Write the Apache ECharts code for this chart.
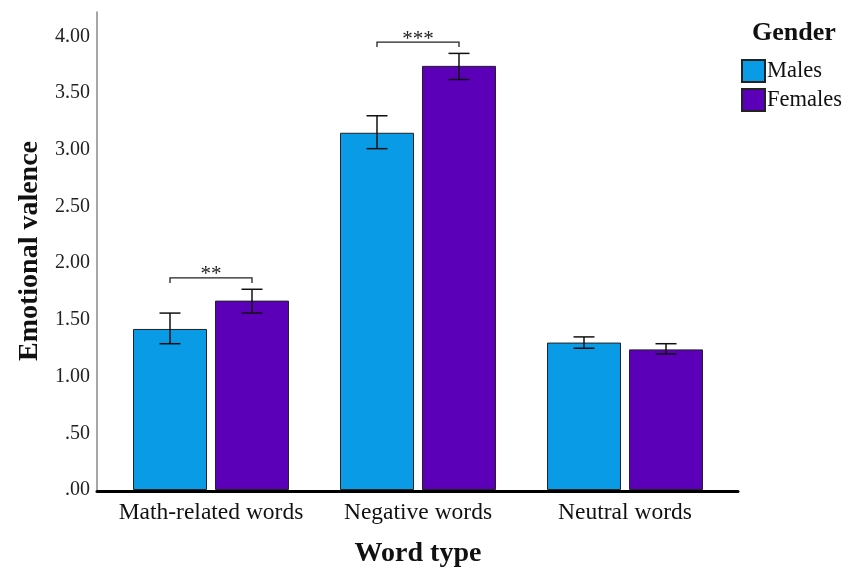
<!DOCTYPE html>
<html>
<head>
<meta charset="utf-8">
<script src="https://cdn.jsdelivr.net/npm/echarts@6/dist/echarts.min.js"></script>
<style>
  html, body { margin: 0; padding: 0; background: #ffffff; }
  #chart { width: 849px; height: 573px; }
</style>
</head>
<body>
<div id="chart"></div>
<script>
// Mean emotional valence per word type, split by gender, with error-bar bounds
const wordTypes = ['Math-related words', 'Negative words', 'Neutral words'];
const genders = ['Males', 'Females'];
const malesMean = [1.42, 3.15, 1.30];
const femalesMean = [1.67, 3.74, 1.24];
const malesLow = [1.29, 3.01, 1.25];
const malesHigh = [1.56, 3.30, 1.35];
const femalesLow = [1.56, 3.62, 1.20];
const femalesHigh = [1.77, 3.85, 1.29];
// Significance brackets between the two bars of a group
const bracketLevel = [1.87, 3.95, null];
const bracketStars = ['**', '***', ''];

const FONT = '"Liberation Serif", "Times New Roman", serif';
const BAR_W = 74;
const BAR_GAP = 8;
const HALF_STEP = (BAR_W + BAR_GAP) / 2;
const COLORS = ['#0A9BE6', '#5B00B8'];

const chart = echarts.init(document.getElementById('chart'), null, { renderer: 'canvas' });

function errorBarSeries(name, low, high, shift) {
  return {
    type: 'custom',
    name: name + ' error',
    xAxisIndex: 0,
    yAxisIndex: 0,
    z: 5,
    silent: true,
    data: low.map((l, i) => [i, l, high[i]]),
    renderItem: function (params, api) {
      const lo = api.coord([api.value(0), api.value(1)]);
      const hi = api.coord([api.value(0), api.value(2)]);
      const x = lo[0] + shift;
      const cap = 10.5;
      const style = { stroke: '#111', lineWidth: 1.5 };
      return {
        type: 'group',
        children: [
          { type: 'line', shape: { x1: x, y1: lo[1], x2: x, y2: hi[1] }, style: style },
          { type: 'line', shape: { x1: x - cap, y1: lo[1], x2: x + cap, y2: lo[1] }, style: style },
          { type: 'line', shape: { x1: x - cap, y1: hi[1], x2: x + cap, y2: hi[1] }, style: style }
        ]
      };
    }
  };
}

const bracketData = [];
bracketLevel.forEach((lvl, i) => {
  if (lvl != null) bracketData.push([i, lvl, bracketStars[i]]);
});

const option = {
  backgroundColor: '#ffffff',
  animation: false,
  title: {
    text: 'Gender',
    left: 752,
    top: 20,
    padding: 0,
    textStyle: { fontFamily: FONT, fontWeight: 'bold', fontSize: 26, color: '#111' }
  },
  legend: {
    data: genders,
    orient: 'vertical',
    left: 741,
    top: 59,
    padding: 0,
    itemWidth: 23,
    itemHeight: 22,
    itemGap: 5,
    selectedMode: false,
    icon: 'rect',
    textStyle: { fontFamily: FONT, fontSize: 22.5, color: '#111', padding: [0, 0, 0, -3] }
  },
  grid: [
    { left: 107.5, width: 621, top: 12, height: 479, containLabel: false },
    { left: 97, width: 641, top: 12, height: 479, containLabel: false }
  ],
  xAxis: [
    {
      type: 'category',
      gridIndex: 0,
      data: wordTypes,
      axisLine: { show: false },
      axisTick: { show: false },
      axisLabel: { interval: 0, fontFamily: FONT, fontSize: 23.5, color: '#111', margin: 11 },
      name: 'Word type',
      nameLocation: 'middle',
      nameGap: 50,
      nameTextStyle: { fontFamily: FONT, fontWeight: 'bold', fontSize: 28, color: '#111' }
    },
    {
      type: 'value',
      gridIndex: 1,
      min: 0,
      max: 1,
      axisLine: { show: true, lineStyle: { color: '#000', width: 3 } },
      axisTick: { show: false },
      axisLabel: { show: false },
      splitLine: { show: false }
    }
  ],
  yAxis: [
    {
      type: 'value',
      gridIndex: 0,
      min: 0,
      max: 4.215,
      interval: 0.5,
      offset: 10.5,
      axisLine: { show: true, lineStyle: { color: '#888', width: 1.5 } },
      axisTick: { show: false },
      splitLine: { show: false },
      axisLabel: {
        fontFamily: FONT,
        fontSize: 20,
        color: '#222',
        margin: 7,
        showMaxLabel: false,
        formatter: function (v) {
          if (Math.abs(v * 2 - Math.round(v * 2)) > 1e-6) return '';
          return v.toFixed(2).replace(/^0/, '');
        }
      },
      name: 'Emotional valence',
      nameLocation: 'middle',
      nameRotate: 90,
      nameGap: 50,
      nameTextStyle: { fontFamily: FONT, fontWeight: 'bold', fontSize: 28, color: '#111' }
    },
    {
      type: 'value',
      gridIndex: 1,
      show: false,
      min: 0,
      max: 1
    }
  ],
  series: [
    {
      name: 'Males',
      type: 'bar',
      xAxisIndex: 0,
      yAxisIndex: 0,
      barWidth: BAR_W,
      barGap: (BAR_GAP / BAR_W * 100).toFixed(2) + '%',
      data: malesMean,
      itemStyle: { color: COLORS[0], borderColor: '#222', borderWidth: 1 }
    },
    {
      name: 'Females',
      type: 'bar',
      xAxisIndex: 0,
      yAxisIndex: 0,
      barWidth: BAR_W,
      data: femalesMean,
      itemStyle: { color: COLORS[1], borderColor: '#222', borderWidth: 1 }
    },
    errorBarSeries('Males', malesLow, malesHigh, -HALF_STEP),
    errorBarSeries('Females', femalesLow, femalesHigh, HALF_STEP),
    {
      type: 'custom',
      name: 'Significance',
      xAxisIndex: 0,
      yAxisIndex: 0,
      z: 5,
      silent: true,
      data: bracketData,
      renderItem: function (params, api) {
        const p = api.coord([api.value(0), api.value(1)]);
        const x1 = p[0] - HALF_STEP;
        const x2 = p[0] + HALF_STEP;
        const y = p[1];
        const drop = 5;
        return {
          type: 'group',
          children: [
            {
              type: 'polyline',
              shape: { points: [[x1, y + drop], [x1, y], [x2, y], [x2, y + drop]] },
              style: { stroke: '#222', lineWidth: 1.3, fill: null }
            },
            {
              type: 'text',
              x: p[0],
              y: y - 3,
              style: {
                text: bracketData[params.dataIndex][2],
                fontFamily: FONT,
                fontSize: 21,
                fill: '#222',
                align: 'center',
                verticalAlign: 'middle'
              }
            }
          ]
        };
      }
    }
  ]
};

chart.setOption(option);
</script>
</body>
</html>
